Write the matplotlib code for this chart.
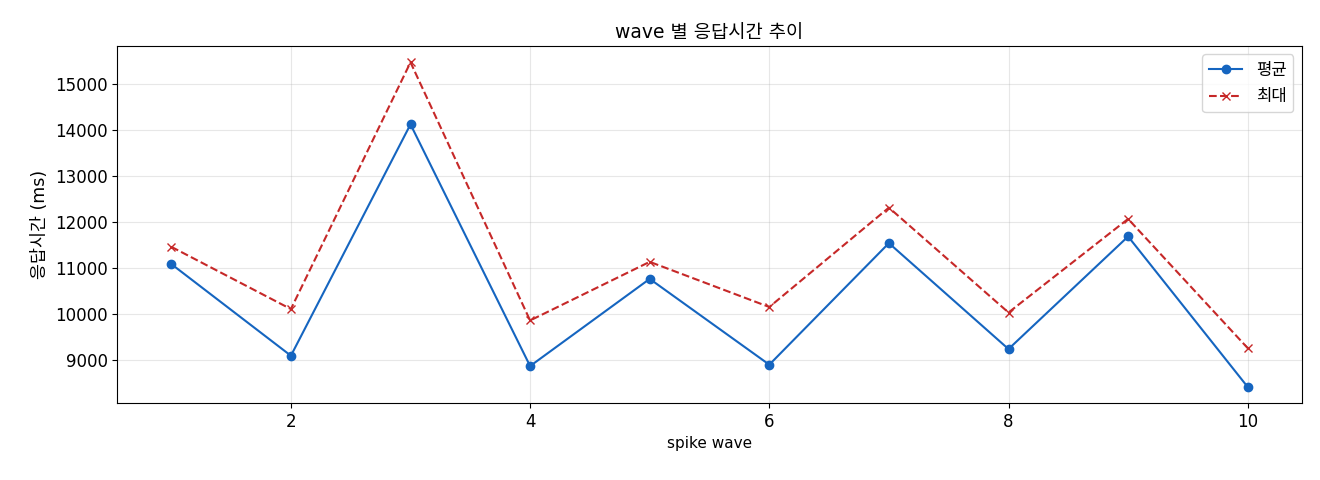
import matplotlib
matplotlib.use("Agg")
import matplotlib.pyplot as plt

plt.rcParams['font.family'] = ['DejaVu Sans', 'Noto Sans CJK KR']
plt.rcParams['axes.unicode_minus'] = False

# wave 별 응답시간 (ms)
waves = [1, 2, 3, 4, 5, 6, 7, 8, 9, 10]
avg_ms = [11090, 9095, 14130, 8870, 10767, 8900, 11545, 9240, 11690, 8415]
max_ms = [11465, 10110, 15480, 9862, 11138, 10155, 12318, 10035, 12072, 9260]

fig, ax = plt.subplots(figsize=(13.2, 4.8), dpi=100)
ax.plot(waves, avg_ms, color="#1565C0", marker="o", linestyle="-", label="평균")
ax.plot(waves, max_ms, color="#C62828", marker="x", linestyle="--", label="최대")

ax.set_title("wave 별 응답시간 추이", fontsize=13.5)
ax.set_xlabel("spike wave", fontsize=11)
ax.set_ylabel("응답시간 (ms)", fontsize=12.5)
ax.tick_params(labelsize=12)
ax.grid(True, alpha=0.3)
ax.legend(loc="upper right", fontsize=12)

plt.subplots_adjust(left=0.089, right=0.986, top=0.904, bottom=0.16)
plt.savefig("out.png")
